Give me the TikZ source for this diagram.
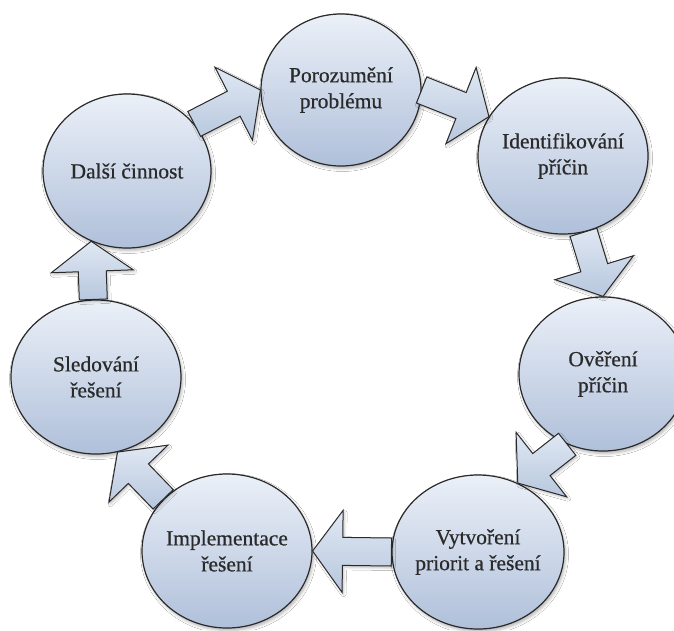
\documentclass[tikz,border=0pt]{standalone}
\usepackage{fontspec}
\setmainfont{Liberation Serif}
\newfontfamily\stagefont{Liberation Serif}[FakeBold=0.6]
\usetikzlibrary{shapes.geometric,calc,shadows.blur}

\definecolor{ringtop}{HTML}{EBF0F8}
\definecolor{ringbot}{HTML}{B0C0DA}
\definecolor{arrtop}{HTML}{E0E8F3}
\definecolor{arrbot}{HTML}{B7C7DE}
\definecolor{edge}{HTML}{2A2A2A}
\definecolor{ink}{HTML}{2A2A2A}

\tikzset{
  stage/.style={ellipse, draw=edge, line width=1.2pt,
    top color=ringtop, bottom color=ringbot,
    minimum width=170pt, minimum height=154pt, inner sep=0pt,
    blur shadow={shadow xshift=1.5pt, shadow yshift=-2.5pt,
      shadow opacity=30, shadow blur radius=3pt}},
  stagetext/.style={align=center, text=ink,
    font=\stagefont\fontsize{21.5}{26}\selectfont},
  flow/.style={draw=edge, line width=1pt, line join=miter,
    top color=arrtop, bottom color=arrbot,
    blur shadow={shadow xshift=1.5pt, shadow yshift=-2pt,
      shadow opacity=25, shadow blur radius=2.5pt}}
}

% block arrow from one border point to another
\newcommand{\flowarrow}[2]{%
  \coordinate (fa-s) at (#1);
  \coordinate (fa-t) at (#2);
  \coordinate (fa-h) at ($(fa-t)!30pt!(fa-s)$);
  \path[flow] ($(fa-s)!14pt!90:(fa-t)$)
    -- ($(fa-h)!14pt!90:(fa-t)$)
    -- ($(fa-h)!41pt!90:(fa-t)$)
    -- (fa-t)
    -- ($(fa-h)!41pt!-90:(fa-t)$)
    -- ($(fa-h)!14pt!-90:(fa-t)$)
    -- ($(fa-s)!14pt!-90:(fa-t)$)
    -- cycle;
}

\begin{document}
\begin{tikzpicture}[x=1pt,y=-1pt]
  \useasboundingbox (0,0) rectangle (674,630);
  \fill[white] (0,0) rectangle (674,630);

  % stages of the cycle
  \node[stage, minimum width=160pt, minimum height=152pt] (c1) at (341,90) {};
  \node[stage, minimum height=156pt] (c2) at (563,156) {};
  \node[stage, minimum width=168pt] (c3) at (603,374) {};
  \node[stage, minimum width=172pt] (c4) at (478,552) {};
  \node[stage] (c5) at (227,551) {};
  \node[stage] (c6) at (96,377) {};
  \node[stage, minimum width=168pt] (c7) at (127,171) {};

  \node[stagetext] (l1) at (c1) {Porozumění\\problému};
  \node[stagetext] (l2) at (c2) {Identifikování\\příčin};
  \node[stagetext] (l3) at (c3) {Ověření\\příčin};
  \node[stagetext] (l4) at (c4) {Vytvoření\\priorit a řešení};
  \node[stagetext] (l5) at (c5) {Implementace\\řešení};
  \node[stagetext] (l6) at (c6) {Sledování\\řešení};
  \node[stagetext] (l7) at (c7) {Další činnost};

  % arrows between the stages
  \flowarrow{c7.35}{c1.180}
  \flowarrow{c1.0}{c2.152}
  \flowarrow{c2.285}{c3.90}
  \flowarrow{c3.243}{c4.60}
  \flowarrow{c4.180}{c5.0}
  \flowarrow{c5.141}{c6.286}
  \flowarrow{c6.92}{c7.243}
\end{tikzpicture}
\end{document}
